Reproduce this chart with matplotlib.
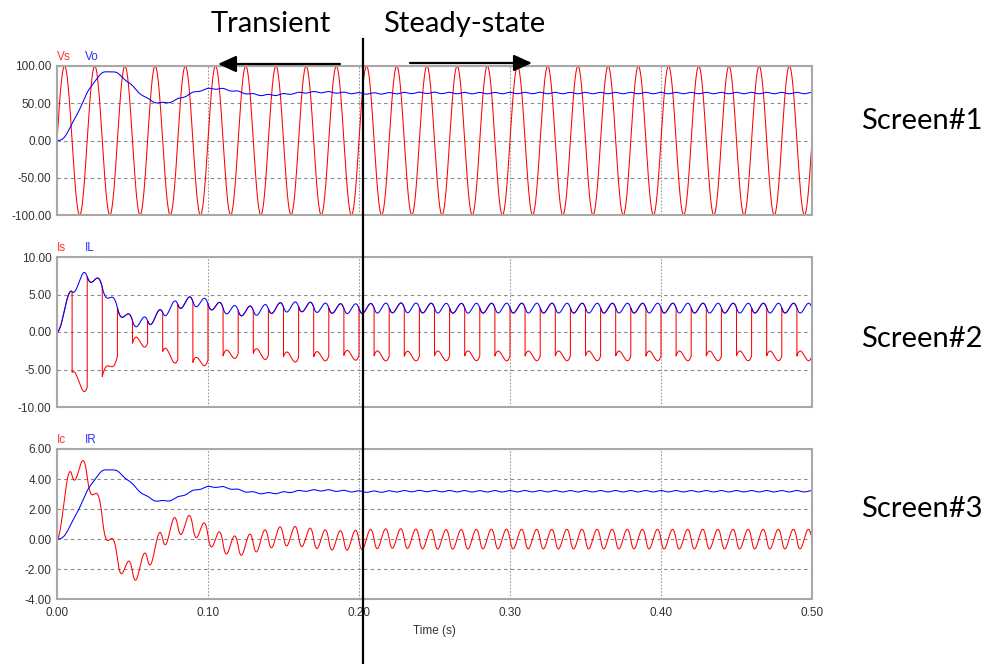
#----Modules----#
import numpy as np
import matplotlib.pyplot as plt

vs_peak = 100.0        # V, peak of Vs on screen 1
vs_freq = 50.0         # Hz, 25 cycles of Vs in 0.5 s
L_henry = 0.105        # from IL rise to ~5.5 A at the first zero crossing
C_farad = 1.1e-3       # from the ~0.07 s ring of Vo (peaks at 0.03 s and 0.10 s)
R_ohm = 20.0           # Vo / IR = 64 V / 3.2 A
t_end = 0.5
dt = 1e-5

screen_names = ['Screen#1', 'Screen#2', 'Screen#3']
trace_names = [['Vs', 'Vo'], ['Is', 'IL'], ['Ic', 'IR']]
y_limits = [(-100, 100), (-10, 10), (-4, 6)]
y_steps = [50, 5, 2]
time_ticks = [0.0, 0.1, 0.2, 0.3, 0.4, 0.5]

# panel boxes in pixels (left, top, right, bottom) on a 989x664 canvas
W, H = 989, 664
panel_px = [(57, 66, 812, 215), (57, 257, 812, 407), (57, 449, 812, 599)]
screen_label_y = [129, 347, 517]

#----Rectifier + LC filter, run step by step----#
t = np.arange(0, t_end + dt / 2, dt)
vs = vs_peak * np.sin(2 * np.pi * vs_freq * t)
il = np.zeros_like(t)
vo = np.zeros_like(t)
for k in range(len(t) - 1):
    i_new = il[k] + (abs(vs[k]) - vo[k]) / L_henry * dt
    if i_new < 0:
        i_new = 0.0
    il[k + 1] = i_new
    vo[k + 1] = vo[k] + (i_new - vo[k] / R_ohm) / C_farad * dt

i_s = il * np.sign(vs)
ir = vo / R_ohm
ic = il - ir
traces = [(vs, vo), (i_s, il), (ic, ir)]

#----Figure----#
plt.rcParams['font.family'] = ['Liberation Sans', 'DejaVu Sans']
fig = plt.figure(figsize=(W / 100, H / 100), dpi=100)
fig.patch.set_facecolor('white')

red = '#ff0000'
blue = '#0000ff'

axes = []
for n, (l, tp, r, b) in enumerate(panel_px):
    ax = fig.add_axes([l / W, 1 - b / H, (r - l) / W, (b - tp) / H])
    red_y, blue_y = traces[n]
    ax.plot(t, red_y, color=red, lw=0.75)
    ax.plot(t, blue_y, color=blue, lw=0.75)

    lo, hi = y_limits[n]
    ax.set_xlim(0, t_end)
    ax.set_ylim(lo, hi)
    ax.set_yticks(np.arange(lo, hi + 0.001, y_steps[n]))
    ax.set_yticklabels(['%.2f' % v for v in np.arange(lo, hi + 0.001, y_steps[n])])
    ax.set_xticks(time_ticks)
    ax.set_xticklabels(['%.2f' % v for v in time_ticks])
    ax.tick_params(axis='y', length=0, labelsize=8.5, colors='#333333', pad=4)
    ax.tick_params(axis='x', length=0, labelsize=8.5, colors='#333333', pad=6)
    if n < 2:
        ax.tick_params(labelbottom=False)

    ax.yaxis.grid(True, linestyle=(0, (3, 3)), color='#888888', lw=0.8)
    ax.xaxis.grid(True, linestyle=(0, (1.5, 1.5)), color='#999999', lw=0.8)
    ax.set_axisbelow(True)
    for s in ax.spines.values():
        s.set_color('#a8a8a8')
        s.set_linewidth(1.5)

    fig.text(l / W, 1 - (tp - 6) / H, trace_names[n][0], color='#ff3030',
             fontsize=8.5, va='baseline', ha='left')
    fig.text(85 / W, 1 - (tp - 6) / H, trace_names[n][1], color='#3030ff',
             fontsize=8.5, va='baseline', ha='left')
    axes.append(ax)

axes[2].set_xlabel('Time (s)', fontsize=8.5, color='#333333', labelpad=4)

#----Annotations on top of everything, in pixel coords----#
over = fig.add_axes([0, 0, 1, 1], zorder=10)
over.set_xlim(0, W)
over.set_ylim(H, 0)
over.axis('off')
over.patch.set_alpha(0)

big = dict(family=['Lato', 'DejaVu Sans'], fontsize=21, color='black', va='baseline')
over.text(211, 32, 'Transient', ha='left', **big)
over.text(383, 32, 'Steady-state', ha='left', **big)
for name, yb in zip(screen_names, screen_label_y):
    over.text(861, yb, name, ha='left', **big)

arrow = dict(arrowstyle='-|>,head_length=0.55,head_width=0.25', mutation_scale=20,
             color='black', lw=1.6, shrinkA=0, shrinkB=0)
over.annotate('', xy=(218, 64), xytext=(340, 64), arrowprops=arrow)
over.annotate('', xy=(532, 63), xytext=(410, 63), arrowprops=arrow)
over.plot([363, 363], [39, H], color='black', lw=1.6)

fig.savefig('out.png', dpi=100)
